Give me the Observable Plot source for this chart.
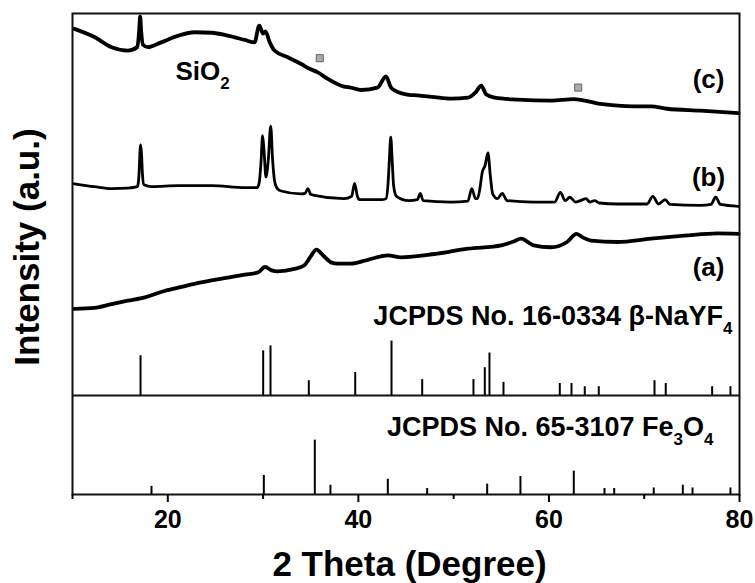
<!DOCTYPE html>
<html>
<head>
<meta charset="utf-8">
<script src="https://cdn.jsdelivr.net/npm/d3@7"></script>
<script src="https://cdn.jsdelivr.net/npm/@observablehq/plot@0.6"></script>
<style>
  html, body { margin: 0; padding: 0; background: #fff; }
  svg { font-family: "Liberation Sans", Arial, sans-serif; }
</style>
</head>
<body>
<div id="chart"></div>
<script>
// ---- Data (2θ in degrees, intensity in a.u., stacked) ----
const curveA = [
  [10.2, 38.6], [12.3, 38.8], [14.1, 39.6], [15.8, 40.3], [17.6, 41.0], [19.3, 42.1],
  [21.1, 43.0], [22.8, 43.8], [24.6, 44.5], [26.3, 45.1], [28.1, 45.7], [29.5, 46.2],
  [30.2, 47.3], [30.9, 46.6], [31.5, 46.4], [33.3, 46.9], [34.3, 47.6], [35.0, 49.5],
  [35.6, 50.9], [36.3, 49.7], [37.2, 48.2], [37.8, 48.0], [39.2, 48.0], [41.0, 48.8],
  [43.1, 49.7], [44.5, 49.3], [48.0, 50.0], [51.5, 51.1], [55.0, 51.8], [56.3, 52.6],
  [57.1, 53.2], [58.0, 52.2], [58.4, 51.8], [60.2, 51.4], [61.9, 52.5], [62.9, 54.2],
  [63.6, 53.4], [64.4, 52.8], [67.2, 52.5], [70.7, 53.2], [74.2, 53.8], [77.7, 54.3],
  [79.9, 54.2]
];
const curveB = [
  [10.2, 64.6], [12.3, 64.0], [14.1, 63.6], [15.8, 63.7], [16.8, 64.0], [16.9, 64.7],
  [17.0, 67.4], [17.1, 71.9], [17.16, 72.7], [17.25, 70.5], [17.35, 66.3], [17.5, 64.4],
  [18.3, 64.0], [21.1, 64.2], [24.6, 64.2], [28.1, 63.8], [29.4, 63.8], [29.6, 64.9],
  [29.8, 69.6], [29.95, 74.6], [30.1, 71.5], [30.3, 66.0], [30.55, 69.6], [30.8, 76.6],
  [31.0, 69.6], [31.2, 65.3], [31.5, 63.6], [31.9, 63.1], [34.0, 62.5], [34.4, 62.6],
  [34.7, 63.6], [35.0, 62.4], [35.4, 62.2], [38.5, 61.5], [39.3, 62.0], [39.6, 64.7],
  [39.9, 62.0], [40.1, 61.3], [42.4, 61.3], [42.9, 61.5], [43.1, 64.2], [43.25, 69.4],
  [43.4, 74.3], [43.55, 69.4], [43.7, 64.2], [44.0, 62.0], [45.3, 61.1], [46.2, 61.3],
  [46.5, 62.6], [46.8, 61.1], [49.7, 60.8], [51.5, 61.0], [51.9, 63.6], [52.3, 61.5],
  [52.5, 61.5], [52.8, 64.2], [53.0, 67.0], [53.3, 68.4], [53.6, 71.0], [53.85, 66.3],
  [54.1, 62.5], [54.6, 61.5], [55.1, 62.6], [55.6, 61.1], [58.4, 60.8], [60.6, 60.8],
  [61.2, 62.8], [61.7, 61.1], [62.2, 61.8], [62.8, 60.8], [63.9, 61.5], [64.3, 60.8],
  [64.8, 61.1], [65.3, 60.6], [67.2, 60.4], [70.3, 60.4], [70.9, 62.0], [71.5, 60.4],
  [72.2, 61.3], [72.7, 60.3], [75.9, 60.1], [77.0, 60.3], [77.5, 61.8], [78.0, 60.3],
  [79.9, 59.9]
];
const curveC = [
  [10.2, 96.8], [12.3, 95.1], [14.1, 93.0], [15.8, 92.3], [16.8, 93.0], [17.0, 96.5],
  [17.1, 99.4], [17.2, 96.5], [17.4, 93.5], [17.9, 93.0], [19.3, 94.0], [21.1, 95.4],
  [22.8, 96.1], [24.6, 96.0], [26.3, 95.4], [28.1, 94.5], [29.1, 94.0], [29.6, 97.5],
  [30.0, 95.8], [30.25, 96.3], [30.7, 94.0], [31.2, 92.3], [32.6, 90.9], [34.0, 89.5],
  [34.9, 88.5], [35.7, 87.8], [36.8, 86.4], [38.5, 84.8], [39.2, 84.6], [40.3, 84.1],
  [42.0, 84.6], [42.9, 86.9], [43.4, 84.7], [43.8, 84.0], [45.3, 83.1], [46.2, 83.0],
  [48.0, 82.6], [49.7, 82.3], [51.5, 82.5], [52.3, 83.6], [52.9, 85.0], [53.4, 83.2],
  [54.3, 82.5], [56.7, 82.1], [60.2, 81.9], [62.6, 82.2], [65.4, 81.2], [68.9, 80.7],
  [70.7, 80.7], [72.4, 80.2], [75.9, 79.8], [79.9, 79.3]
];

// Reference stick patterns: position (2θ) and relative intensity (%)
const nayf4Pos = [17.14, 30.01, 30.78, 34.8, 39.67, 43.48, 46.7, 52.08, 53.27, 53.76,
                  55.23, 61.14, 62.37, 63.76, 65.23, 71.08, 72.26, 77.13, 79.05];
const nayf4Int = [73, 82, 91, 27, 42, 100, 29, 29, 51, 78, 24, 22, 22, 16, 16, 27, 22, 16, 16];
const fe3o4Pos = [18.29, 30.08, 35.43, 37.07, 43.09, 47.22, 53.52, 57.01, 62.61, 65.83,
                  66.85, 71.0, 74.05, 75.07, 79.05];
const fe3o4Int = [15, 35, 100, 17, 28, 11, 19, 33, 43, 11, 11, 12, 17, 12, 12];

// Fe3O4 markers on curve (c)
const markerX = [35.95, 63.07];
const markerY = [90.7, 84.6];

const majorTicks = [20, 40, 60, 80];
const minorTicks = [10, 30, 50, 70];

// Labels
const curveLabels = [
  {x: 76.75, y: 86.3, text: "(c)"},
  {x: 76.75, y: 65.9, text: "(b)"},
  {x: 76.75, y: 47.2, text: "(a)"}
];

// ---- layout constants ----
const NAYF4_BASE = 20.6;
const FE3O4_BASE = 0;
const STICK_SCALE = 0.113;

const nayf4 = nayf4Pos.map((p, i) => ({x: p, y1: NAYF4_BASE, y2: NAYF4_BASE + nayf4Int[i] * STICK_SCALE}));
const fe3o4 = fe3o4Pos.map((p, i) => ({x: p, y1: FE3O4_BASE, y2: FE3O4_BASE + fe3o4Int[i] * STICK_SCALE}));
const markers = markerX.map((x, i) => ({x, y: markerY[i]}));

const FONT = "Liberation Sans, Arial, sans-serif";
const xy = {x: d => d[0], y: d => d[1]};

const svg = Plot.plot({
  width: 755,
  height: 583,
  marginLeft: 72,
  marginRight: 16,
  marginTop: 13,
  marginBottom: 89,
  style: {fontFamily: FONT, background: "#fff", color: "#000"},
  x: {domain: [10, 80]},
  y: {domain: [0, 100], axis: null},
  marks: [
    Plot.ruleY([NAYF4_BASE], {stroke: "#111", strokeWidth: 2}),
    Plot.ruleX(nayf4, {x: "x", y1: "y1", y2: "y2", stroke: "#000", strokeWidth: 2}),
    Plot.ruleX(fe3o4, {x: "x", y1: "y1", y2: "y2", stroke: "#000", strokeWidth: 2}),
    Plot.line(curveA, {...xy, stroke: "#000", strokeWidth: 3.8, curve: "monotone-x"}),
    Plot.line(curveB, {...xy, stroke: "#000", strokeWidth: 2.8, curve: "monotone-x"}),
    Plot.line(curveC, {...xy, stroke: "#000", strokeWidth: 3.8, curve: "monotone-x"}),
    Plot.dot(markers, {x: "x", y: "y", symbol: "square", r: 4, fill: "#aaa", stroke: "#666", strokeWidth: 1}),
    Plot.text(curveLabels, {x: "x", y: "y", text: "text", fontSize: 26, fontWeight: "bold", textAnchor: "middle", lineAnchor: "middle", fill: "#000"}),
    Plot.text(["SiO_2"], {x: 20.81, y: 87.9, textAnchor: "start", lineAnchor: "middle", fontSize: 26, fontWeight: "bold", fill: "#000"}),
    Plot.text(["JCPDS No. 16-0334 β-NaYF_4"], {x: 79.26, y: 37.1, textAnchor: "end", lineAnchor: "middle", fontSize: 27, fontWeight: "bold", fill: "#000"}),
    Plot.text(["JCPDS No. 65-3107 Fe_3O_4"], {x: 77.27, y: 13.9, textAnchor: "end", lineAnchor: "middle", fontSize: 27, fontWeight: "bold", fill: "#000"}),
    Plot.frame({stroke: "#111", strokeWidth: 2}),
    Plot.axisX(minorTicks, {tickSize: 5, strokeWidth: 2, tickFormat: () => "", label: null}),
    Plot.axisX(majorTicks, {tickSize: 8, tickPadding: 8, strokeWidth: 2, fontSize: 25, fontWeight: "bold", fill: "#000", label: null}),
    Plot.text(["2 Theta (Degree)"], {frameAnchor: "bottom", dx: 3.5, dy: 69.8, textAnchor: "middle", lineAnchor: "middle", fontSize: 35, fontWeight: "bold", fill: "#000"}),
    Plot.text(["Intensity (a.u.)"], {frameAnchor: "left", dx: -45, dy: -7, rotate: -90, textAnchor: "middle", lineAnchor: "middle", fontSize: 35, fontWeight: "bold", fill: "#000"})
  ]
});

// Render "_n" as real subscript tspans
const NS = "http://www.w3.org/2000/svg";
svg.querySelectorAll("text").forEach(t => {
  const s = t.textContent;
  if (!s.includes("_")) return;
  const parts = s.split(/_(\d+)/);
  t.textContent = "";
  let down = false;
  parts.forEach((p, i) => {
    if (!p) return;
    const ts = document.createElementNS(NS, "tspan");
    ts.textContent = p;
    if (i % 2 === 1) {
      ts.setAttribute("font-size", "17");
      if (!down) { ts.setAttribute("dy", "9"); down = true; }
    } else if (down) {
      ts.setAttribute("dy", "-9");
      down = false;
    }
    t.appendChild(ts);
  });
});

document.getElementById("chart").appendChild(svg);
</script>
</body>
</html>
